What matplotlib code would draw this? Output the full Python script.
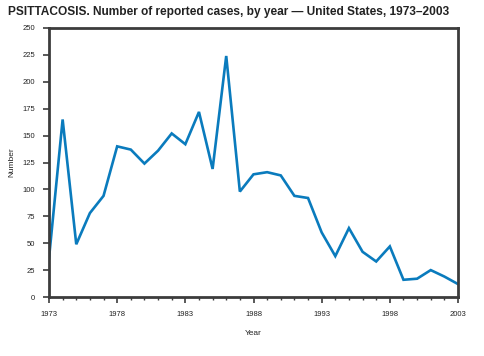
import matplotlib
matplotlib.use("Agg")
import matplotlib.pyplot as plt
from matplotlib.ticker import MultipleLocator

years = list(range(1973, 2004))
cases = [36, 165, 49, 78, 94, 140, 137, 124, 136, 152, 142, 172, 119, 224,
         98, 114, 116, 113, 94, 92, 60, 38, 64, 42, 33, 47, 16, 17, 25, 19, 12]
xticks = [1973, 1978, 1983, 1988, 1993, 1998, 2003]
yticks = [0, 25, 50, 75, 100, 125, 150, 175, 200, 225, 250]

plt.rcParams['font.family'] = ['Liberation Sans', 'DejaVu Sans']

fig = plt.figure(figsize=(4.84, 3.56), dpi=100)
ax = fig.add_axes([49/484, 59/356, 409/484, 269/356])
ax.plot(years, cases, color='#0a7bbd', lw=1.9, solid_joinstyle='miter')
ax.set_xlim(1973, 2003)
ax.set_ylim(0, 250)
ax.set_xticks(xticks)
ax.set_xticklabels([str(t) for t in xticks])
ax.xaxis.set_minor_locator(MultipleLocator(1))
ax.set_yticks(yticks)
ax.set_yticklabels([str(t) for t in yticks])
spc = '#3c3c3c'
for s in ax.spines.values():
    s.set_linewidth(2)
    s.set_color(spc)
ax.tick_params(axis='both', which='major', direction='out', length=4, width=1.2,
               color=spc, labelsize=5.5, labelcolor='#222222', pad=6)
ax.tick_params(axis='x', which='minor', direction='out', length=2, width=1, color=spc)
ax.set_xlabel('Year', fontsize=6, color='#222222', labelpad=9)
ax.set_ylabel('Number', fontsize=6, color='#222222')
ax.yaxis.set_label_coords(-0.082, 0.5)
fig.text(8/484, 1 - 12/356, 'PSITTACOSIS. Number of reported cases, by year — United States, 1973–2003',
         fontsize=8.6, fontweight='bold', color='#222222', va='center', ha='left')
fig.savefig('out.png', dpi=100)
